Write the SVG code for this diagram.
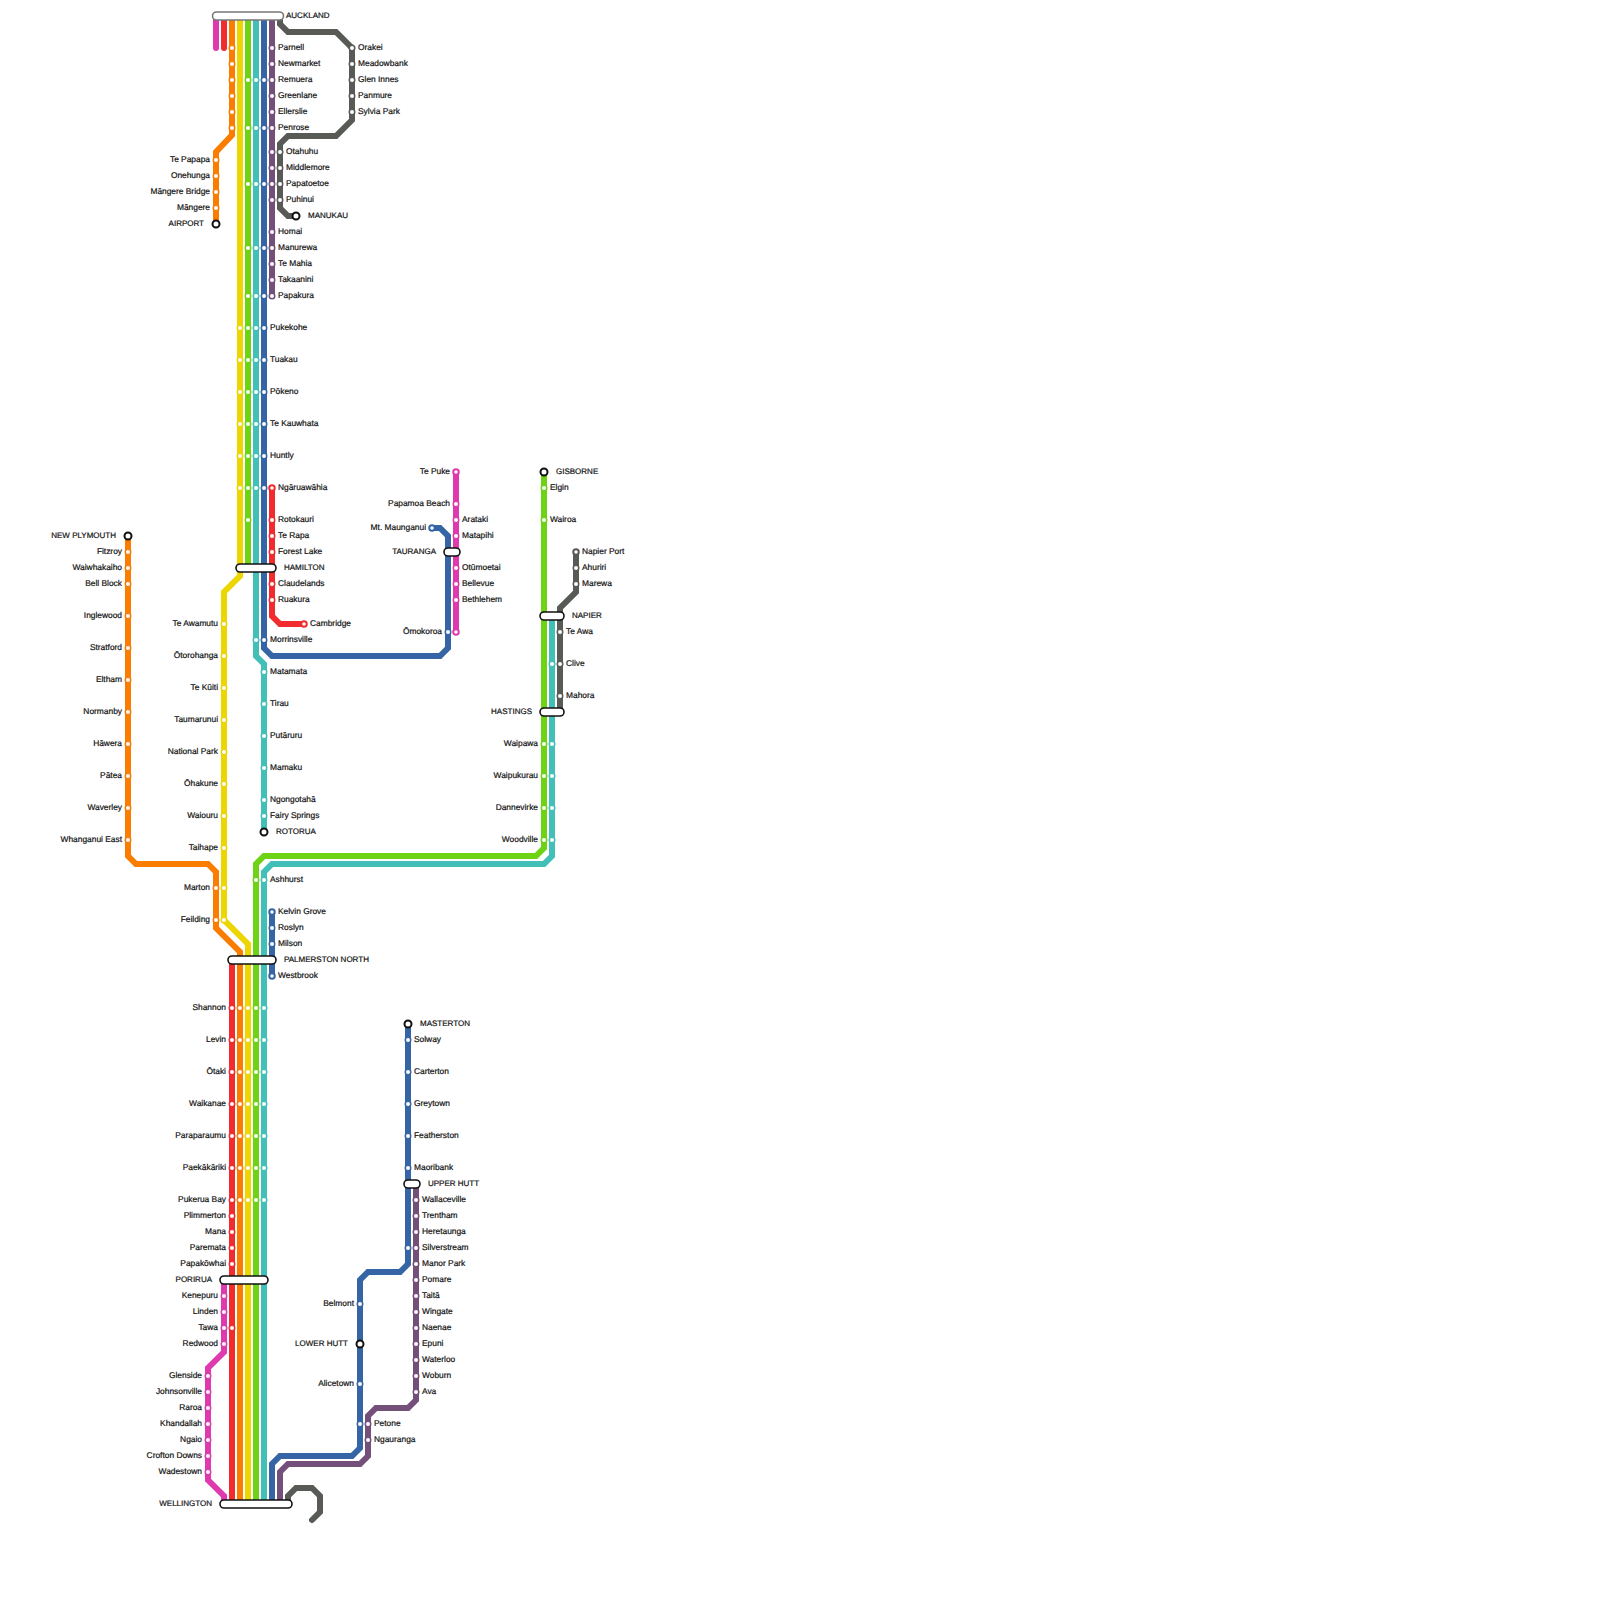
<svg xmlns="http://www.w3.org/2000/svg" width="1600" height="1600" viewBox="0 0 1600 1600">
<style>
text{font-family:"Liberation Sans",Arial,sans-serif;font-size:8.4px;fill:#111;stroke:#111;stroke-width:.2px;text-rendering:geometricPrecision}
.c{font-size:8px}
.r{text-anchor:end}
.ln{fill:none;stroke-width:6;stroke-linejoin:miter;stroke-linecap:round}
.bx{fill:#fff;stroke:#111;stroke-width:1.6}
.tm{fill:#fff;stroke:#111;stroke-width:2}
#m{fill:#fff}
use{stroke-width:1.5}
use.end{stroke-width:2}
.red{stroke:#f12b2e}.ora{stroke:#fa7d00}.yel{stroke:#edd600}.gre{stroke:#6dd314}.tea{stroke:#42c0b8}.blu{stroke:#3565a5}.pur{stroke:#744f79}.mag{stroke:#df39af}.gry{stroke:#575a55}
</style>
<defs>
<circle id="m" r="2.750"/>
</defs>
<g id="connectors">
<path class="ln mag" d="M216 20V48"/>
<path class="ln red" d="M224 20V48"/>
<path class="ln ora" d="M232 20V135L216 152V224"/>
<path class="ln yel" d="M240 20V576L224 592V920L248 944V1504"/>
<path class="ln gre" d="M248 20V568"/>
<path class="ln tea" d="M256 20V656L264 664V832"/>
<path class="ln blu" d="M264 20V648L272 656H440L448 648V536L440 528H432"/>
<path class="ln pur" d="M272 20V296"/>
<path class="ln gry" d="M280 16V24L288 32H336L352 48V120L336 136H288L280 144V208L288 216H296"/>
<path class="ln red" d="M272 488V616L280 624H304"/>
<path class="ln mag" d="M456 472V632"/>
<path class="ln ora" d="M128 536V856L136 864H208L216 872V928L240 952V1504"/>
<path class="ln red" d="M232 960V1504"/>
<path class="ln gre" d="M256 1504V864L264 856H536L544 848V472"/>
<path class="ln tea" d="M264 1504V872L272 864H544L552 856V616"/>
<path class="ln blu" d="M272 912V976"/>
<path class="ln gry" d="M576 552V592L560 608V712"/>
<path class="ln mag" d="M224 1280V1352L208 1368V1480L224 1496V1504"/>
<path class="ln blu" d="M272 1504V1464L280 1456H352L360 1448V1280L368 1272H400L408 1264V1024"/>
<path class="ln pur" d="M280 1504V1472L288 1464H360L368 1456V1416L376 1408H408L416 1400V1184"/>
<path class="ln gry" d="M288 1504V1496L296 1488H312L320 1496V1512L312 1520"/>
</g>
<g id="auckland"><rect x="212.500" y="12" width="71" height="8" rx="4" fill="#fff" stroke="#777" stroke-width="1.600"/><text class="c" x="286" y="18">AUCKLAND</text></g>
<g id="parnell"><use href="#m" x="232" y="48" class="ora"/><use href="#m" x="272" y="48" class="pur"/><use href="#m" x="352" y="48" class="gry"/><text x="278" y="50">Parnell</text></g>
<g id="orakei"><text x="358" y="50">Orakei</text></g>
<g id="newmarket"><use href="#m" x="232" y="64" class="ora"/><use href="#m" x="272" y="64" class="pur"/><use href="#m" x="352" y="64" class="gry"/><text x="278" y="66">Newmarket</text><text x="358" y="66">Meadowbank</text></g>
<g id="remuera"><use href="#m" x="232" y="80" class="ora"/><use href="#m" x="248" y="80" class="gre"/><use href="#m" x="256" y="80" class="tea"/><use href="#m" x="264" y="80" class="blu"/><use href="#m" x="272" y="80" class="pur"/><use href="#m" x="352" y="80" class="gry"/><text x="278" y="82">Remuera</text><text x="358" y="82">Glen Innes</text></g>
<g id="greenlane"><use href="#m" x="232" y="96" class="ora"/><use href="#m" x="272" y="96" class="pur"/><use href="#m" x="352" y="96" class="gry"/><text x="278" y="98">Greenlane</text><text x="358" y="98">Panmure</text></g>
<g id="ellerslie"><use href="#m" x="232" y="112" class="ora"/><use href="#m" x="272" y="112" class="pur"/><use href="#m" x="352" y="112" class="gry"/><text x="278" y="114">Ellerslie</text><text x="358" y="114">Sylvia Park</text></g>
<g id="penrose"><use href="#m" x="232" y="128" class="ora"/><use href="#m" x="248" y="128" class="gre"/><use href="#m" x="256" y="128" class="tea"/><use href="#m" x="264" y="128" class="blu"/><use href="#m" x="272" y="128" class="pur"/><text x="278" y="130">Penrose</text></g>
<g id="otahuhu"><use href="#m" x="272" y="152" class="pur"/><use href="#m" x="280" y="152" class="gry"/><text x="286" y="154">Otahuhu</text></g>
<g id="middlemore"><use href="#m" x="272" y="168" class="pur"/><use href="#m" x="280" y="168" class="gry"/><text x="286" y="170">Middlemore</text></g>
<g id="papatoetoe"><use href="#m" x="248" y="184" class="gre"/><use href="#m" x="256" y="184" class="tea"/><use href="#m" x="264" y="184" class="blu"/><use href="#m" x="272" y="184" class="pur"/><use href="#m" x="280" y="184" class="gry"/><text x="286" y="186">Papatoetoe</text></g>
<g id="puhinui"><use href="#m" x="272" y="200" class="pur"/><use href="#m" x="280" y="200" class="gry"/><text x="286" y="202">Puhinui</text></g>
<g id="manukau"><circle cx="296" cy="216" r="3.500" class="tm"/><text class="c" x="308" y="218">MANUKAU</text></g>
<g id="te-papapa"><use href="#m" x="216" y="160" class="ora"/><text class="r" x="210" y="162">Te Papapa</text></g>
<g id="onehunga"><use href="#m" x="216" y="176" class="ora"/><text class="r" x="210" y="178">Onehunga</text></g>
<g id="mangere-bridge"><use href="#m" x="216" y="192" class="ora"/><text class="r" x="210" y="194">Māngere Bridge</text></g>
<g id="mangere"><use href="#m" x="216" y="208" class="ora"/><text class="r" x="210" y="210">Māngere</text></g>
<g id="airport"><circle cx="216" cy="224" r="3.500" class="tm"/><text class="r c" x="204" y="226">AIRPORT</text></g>
<g id="homai"><use href="#m" x="272" y="232" class="pur"/><text x="278" y="234">Homai</text></g>
<g id="manurewa"><use href="#m" x="248" y="248" class="gre"/><use href="#m" x="256" y="248" class="tea"/><use href="#m" x="264" y="248" class="blu"/><use href="#m" x="272" y="248" class="pur"/><text x="278" y="250">Manurewa</text></g>
<g id="te-mahia"><use href="#m" x="272" y="264" class="pur"/><text x="278" y="266">Te Mahia</text></g>
<g id="takaanini"><use href="#m" x="272" y="280" class="pur"/><text x="278" y="282">Takaanini</text></g>
<g id="papakura"><use href="#m" x="248" y="296" class="gre"/><use href="#m" x="256" y="296" class="tea"/><use href="#m" x="264" y="296" class="blu"/><use href="#m" x="272" y="296" class="pur"/><text x="278" y="298">Papakura</text></g>
<g id="pukekohe"><use href="#m" x="240" y="328" class="yel"/><use href="#m" x="248" y="328" class="gre"/><use href="#m" x="256" y="328" class="tea"/><use href="#m" x="264" y="328" class="blu"/><text x="270" y="330">Pukekohe</text></g>
<g id="tuakau"><use href="#m" x="240" y="360" class="yel"/><use href="#m" x="248" y="360" class="gre"/><use href="#m" x="256" y="360" class="tea"/><use href="#m" x="264" y="360" class="blu"/><text x="270" y="362">Tuakau</text></g>
<g id="pokeno"><use href="#m" x="240" y="392" class="yel"/><use href="#m" x="248" y="392" class="gre"/><use href="#m" x="256" y="392" class="tea"/><use href="#m" x="264" y="392" class="blu"/><text x="270" y="394">Pōkeno</text></g>
<g id="te-kauwhata"><use href="#m" x="240" y="424" class="yel"/><use href="#m" x="248" y="424" class="gre"/><use href="#m" x="256" y="424" class="tea"/><use href="#m" x="264" y="424" class="blu"/><text x="270" y="426">Te Kauwhata</text></g>
<g id="huntly"><use href="#m" x="240" y="456" class="yel"/><use href="#m" x="248" y="456" class="gre"/><use href="#m" x="256" y="456" class="tea"/><use href="#m" x="264" y="456" class="blu"/><text x="270" y="458">Huntly</text></g>
<g id="ngaruawahia"><use href="#m" x="240" y="488" class="yel"/><use href="#m" x="248" y="488" class="gre"/><use href="#m" x="256" y="488" class="tea"/><use href="#m" x="264" y="488" class="blu"/><use href="#m" x="272" y="488" class="red end"/><text x="278" y="490">Ngāruawāhia</text></g>
<g id="rotokauri"><use href="#m" x="248" y="520" class="gre"/><use href="#m" x="272" y="520" class="red"/><text x="278" y="522">Rotokauri</text></g>
<g id="te-rapa"><use href="#m" x="272" y="536" class="red"/><text x="278" y="538">Te Rapa</text></g>
<g id="forest-lake"><use href="#m" x="272" y="552" class="red"/><text x="278" y="554">Forest Lake</text></g>
<g id="hamilton"><rect x="236" y="564" width="40" height="8" rx="4" class="bx"/><text class="c" x="284" y="570">HAMILTON</text></g>
<g id="claudelands"><use href="#m" x="272" y="584" class="red"/><text x="278" y="586">Claudelands</text></g>
<g id="ruakura"><use href="#m" x="272" y="600" class="red"/><text x="278" y="602">Ruakura</text></g>
<g id="cambridge"><use href="#m" x="304" y="624" class="red end"/><text x="310" y="626">Cambridge</text></g>
<g id="morrinsville"><use href="#m" x="256" y="640" class="tea"/><use href="#m" x="264" y="640" class="blu"/><text x="270" y="642">Morrinsville</text></g>
<g id="matamata"><use href="#m" x="264" y="672" class="tea"/><text x="270" y="674">Matamata</text></g>
<g id="tirau"><use href="#m" x="264" y="704" class="tea"/><text x="270" y="706">Tirau</text></g>
<g id="putaruru"><use href="#m" x="264" y="736" class="tea"/><text x="270" y="738">Putāruru</text></g>
<g id="mamaku"><use href="#m" x="264" y="768" class="tea"/><text x="270" y="770">Mamaku</text></g>
<g id="ngongotaha"><use href="#m" x="264" y="800" class="tea"/><text x="270" y="802">Ngongotahā</text></g>
<g id="fairy-springs"><use href="#m" x="264" y="816" class="tea"/><text x="270" y="818">Fairy Springs</text></g>
<g id="rotorua"><circle cx="264" cy="832" r="3.500" class="tm"/><text class="c" x="276" y="834">ROTORUA</text></g>
<g id="te-awamutu"><use href="#m" x="224" y="624" class="yel"/><text class="r" x="218" y="626">Te Awamutu</text></g>
<g id="otorohanga"><use href="#m" x="224" y="656" class="yel"/><text class="r" x="218" y="658">Ōtorohanga</text></g>
<g id="te-kuiti"><use href="#m" x="224" y="688" class="yel"/><text class="r" x="218" y="690">Te Kūiti</text></g>
<g id="taumarunui"><use href="#m" x="224" y="720" class="yel"/><text class="r" x="218" y="722">Taumarunui</text></g>
<g id="national-park"><use href="#m" x="224" y="752" class="yel"/><text class="r" x="218" y="754">National Park</text></g>
<g id="ohakune"><use href="#m" x="224" y="784" class="yel"/><text class="r" x="218" y="786">Ōhakune</text></g>
<g id="waiouru"><use href="#m" x="224" y="816" class="yel"/><text class="r" x="218" y="818">Waiouru</text></g>
<g id="taihape"><use href="#m" x="224" y="848" class="yel"/><text class="r" x="218" y="850">Taihape</text></g>
<g id="marton"><use href="#m" x="216" y="888" class="ora"/><use href="#m" x="224" y="888" class="yel"/><text class="r" x="210" y="890">Marton</text></g>
<g id="feilding"><use href="#m" x="216" y="920" class="ora"/><use href="#m" x="224" y="920" class="yel"/><text class="r" x="210" y="922">Feilding</text></g>
<g id="new-plymouth"><circle cx="128" cy="536" r="3.500" class="tm"/><text class="r c" x="116" y="538">NEW PLYMOUTH</text></g>
<g id="fitzroy"><use href="#m" x="128" y="552" class="ora"/><text class="r" x="122" y="554">Fitzroy</text></g>
<g id="waiwhakaiho"><use href="#m" x="128" y="568" class="ora"/><text class="r" x="122" y="570">Waiwhakaiho</text></g>
<g id="bell-block"><use href="#m" x="128" y="584" class="ora"/><text class="r" x="122" y="586">Bell Block</text></g>
<g id="inglewood"><use href="#m" x="128" y="616" class="ora"/><text class="r" x="122" y="618">Inglewood</text></g>
<g id="stratford"><use href="#m" x="128" y="648" class="ora"/><text class="r" x="122" y="650">Stratford</text></g>
<g id="eltham"><use href="#m" x="128" y="680" class="ora"/><text class="r" x="122" y="682">Eltham</text></g>
<g id="normanby"><use href="#m" x="128" y="712" class="ora"/><text class="r" x="122" y="714">Normanby</text></g>
<g id="hawera"><use href="#m" x="128" y="744" class="ora"/><text class="r" x="122" y="746">Hāwera</text></g>
<g id="patea"><use href="#m" x="128" y="776" class="ora"/><text class="r" x="122" y="778">Pātea</text></g>
<g id="waverley"><use href="#m" x="128" y="808" class="ora"/><text class="r" x="122" y="810">Waverley</text></g>
<g id="whanganui-east"><use href="#m" x="128" y="840" class="ora"/><text class="r" x="122" y="842">Whanganui East</text></g>
<g id="te-puke"><use href="#m" x="456" y="472" class="mag end"/><text class="r" x="450" y="474">Te Puke</text></g>
<g id="papamoa-beach"><use href="#m" x="456" y="504" class="mag"/><text class="r" x="450" y="506">Papamoa Beach</text></g>
<g id="arataki"><use href="#m" x="456" y="520" class="mag"/><text x="462" y="522">Arataki</text></g>
<g id="mt-maunganui"><use href="#m" x="432" y="528" class="blu end"/><text class="r" x="426" y="530">Mt. Maunganui</text></g>
<g id="matapihi"><use href="#m" x="456" y="536" class="mag"/><text x="462" y="538">Matapihi</text></g>
<g id="tauranga"><rect x="444" y="548" width="16" height="8" rx="4" class="bx"/><text class="r c" x="436" y="554">TAURANGA</text></g>
<g id="otumoetai"><use href="#m" x="456" y="568" class="mag"/><text x="462" y="570">Otūmoetai</text></g>
<g id="bellevue"><use href="#m" x="456" y="584" class="mag"/><text x="462" y="586">Bellevue</text></g>
<g id="bethlehem"><use href="#m" x="456" y="600" class="mag"/><text x="462" y="602">Bethlehem</text></g>
<g id="omokoroa"><use href="#m" x="448" y="632" class="blu"/><use href="#m" x="456" y="632" class="mag end"/><text class="r" x="442" y="634">Ōmokoroa</text></g>
<g id="gisborne"><circle cx="544" cy="472" r="3.500" class="tm"/><text class="c" x="556" y="474">GISBORNE</text></g>
<g id="elgin"><use href="#m" x="544" y="488" class="gre"/><text x="550" y="490">Elgin</text></g>
<g id="wairoa"><use href="#m" x="544" y="520" class="gre"/><text x="550" y="522">Wairoa</text></g>
<g id="napier-port"><use href="#m" x="576" y="552" class="gry end"/><text x="582" y="554">Napier Port</text></g>
<g id="ahuriri"><use href="#m" x="576" y="568" class="gry"/><text x="582" y="570">Ahuriri</text></g>
<g id="marewa"><use href="#m" x="576" y="584" class="gry"/><text x="582" y="586">Marewa</text></g>
<g id="napier"><rect x="540" y="612" width="24" height="8" rx="4" class="bx"/><text class="c" x="572" y="618">NAPIER</text></g>
<g id="te-awa"><use href="#m" x="560" y="632" class="gry"/><text x="566" y="634">Te Awa</text></g>
<g id="clive"><use href="#m" x="552" y="664" class="tea"/><use href="#m" x="560" y="664" class="gry"/><text x="566" y="666">Clive</text></g>
<g id="mahora"><use href="#m" x="560" y="696" class="gry"/><text x="566" y="698">Mahora</text></g>
<g id="hastings"><rect x="540" y="708" width="24" height="8" rx="4" class="bx"/><text class="r c" x="532" y="714">HASTINGS</text></g>
<g id="waipawa"><use href="#m" x="544" y="744" class="gre"/><use href="#m" x="552" y="744" class="tea"/><text class="r" x="538" y="746">Waipawa</text></g>
<g id="waipukurau"><use href="#m" x="544" y="776" class="gre"/><use href="#m" x="552" y="776" class="tea"/><text class="r" x="538" y="778">Waipukurau</text></g>
<g id="dannevirke"><use href="#m" x="544" y="808" class="gre"/><use href="#m" x="552" y="808" class="tea"/><text class="r" x="538" y="810">Dannevirke</text></g>
<g id="woodville"><use href="#m" x="544" y="840" class="gre"/><use href="#m" x="552" y="840" class="tea"/><text class="r" x="538" y="842">Woodville</text></g>
<g id="ashhurst"><use href="#m" x="256" y="880" class="gre"/><use href="#m" x="264" y="880" class="tea"/><text x="270" y="882">Ashhurst</text></g>
<g id="kelvin-grove"><use href="#m" x="272" y="912" class="blu end"/><text x="278" y="914">Kelvin Grove</text></g>
<g id="roslyn"><use href="#m" x="272" y="928" class="blu"/><text x="278" y="930">Roslyn</text></g>
<g id="milson"><use href="#m" x="272" y="944" class="blu"/><text x="278" y="946">Milson</text></g>
<g id="palmerston-north"><rect x="228" y="956" width="48" height="8" rx="4" class="bx"/><text class="c" x="284" y="962">PALMERSTON NORTH</text></g>
<g id="westbrook"><use href="#m" x="272" y="976" class="blu end"/><text x="278" y="978">Westbrook</text></g>
<g id="shannon"><use href="#m" x="232" y="1008" class="red"/><use href="#m" x="240" y="1008" class="ora"/><use href="#m" x="248" y="1008" class="yel"/><use href="#m" x="256" y="1008" class="gre"/><use href="#m" x="264" y="1008" class="tea"/><text class="r" x="226" y="1010">Shannon</text></g>
<g id="levin"><use href="#m" x="232" y="1040" class="red"/><use href="#m" x="240" y="1040" class="ora"/><use href="#m" x="248" y="1040" class="yel"/><use href="#m" x="256" y="1040" class="gre"/><use href="#m" x="264" y="1040" class="tea"/><text class="r" x="226" y="1042">Levin</text></g>
<g id="otaki"><use href="#m" x="232" y="1072" class="red"/><use href="#m" x="240" y="1072" class="ora"/><use href="#m" x="248" y="1072" class="yel"/><use href="#m" x="256" y="1072" class="gre"/><use href="#m" x="264" y="1072" class="tea"/><text class="r" x="226" y="1074">Ōtaki</text></g>
<g id="waikanae"><use href="#m" x="232" y="1104" class="red"/><use href="#m" x="240" y="1104" class="ora"/><use href="#m" x="248" y="1104" class="yel"/><use href="#m" x="256" y="1104" class="gre"/><use href="#m" x="264" y="1104" class="tea"/><text class="r" x="226" y="1106">Waikanae</text></g>
<g id="paraparaumu"><use href="#m" x="232" y="1136" class="red"/><use href="#m" x="240" y="1136" class="ora"/><use href="#m" x="248" y="1136" class="yel"/><use href="#m" x="256" y="1136" class="gre"/><use href="#m" x="264" y="1136" class="tea"/><text class="r" x="226" y="1138">Paraparaumu</text></g>
<g id="paekakariki"><use href="#m" x="232" y="1168" class="red"/><use href="#m" x="240" y="1168" class="ora"/><use href="#m" x="248" y="1168" class="yel"/><use href="#m" x="256" y="1168" class="gre"/><use href="#m" x="264" y="1168" class="tea"/><text class="r" x="226" y="1170">Paekākāriki</text></g>
<g id="pukerua-bay"><use href="#m" x="232" y="1200" class="red"/><use href="#m" x="240" y="1200" class="ora"/><use href="#m" x="248" y="1200" class="yel"/><use href="#m" x="256" y="1200" class="gre"/><use href="#m" x="264" y="1200" class="tea"/><text class="r" x="226" y="1202">Pukerua Bay</text></g>
<g id="plimmerton"><use href="#m" x="232" y="1216" class="red"/><text class="r" x="226" y="1218">Plimmerton</text></g>
<g id="mana"><use href="#m" x="232" y="1232" class="red"/><text class="r" x="226" y="1234">Mana</text></g>
<g id="paremata"><use href="#m" x="232" y="1248" class="red"/><text class="r" x="226" y="1250">Paremata</text></g>
<g id="papakowhai"><use href="#m" x="232" y="1264" class="red"/><text class="r" x="226" y="1266">Papakōwhai</text></g>
<g id="porirua"><rect x="220" y="1276" width="48" height="8" rx="4" class="bx"/><text class="r c" x="212" y="1282">PORIRUA</text></g>
<g id="kenepuru"><use href="#m" x="224" y="1296" class="mag"/><text class="r" x="218" y="1298">Kenepuru</text></g>
<g id="linden"><use href="#m" x="224" y="1312" class="mag"/><text class="r" x="218" y="1314">Linden</text></g>
<g id="tawa"><use href="#m" x="224" y="1328" class="mag"/><use href="#m" x="232" y="1328" class="red"/><text class="r" x="218" y="1330">Tawa</text></g>
<g id="redwood"><use href="#m" x="224" y="1344" class="mag"/><text class="r" x="218" y="1346">Redwood</text></g>
<g id="glenside"><use href="#m" x="208" y="1376" class="mag"/><text class="r" x="202" y="1378">Glenside</text></g>
<g id="johnsonville"><use href="#m" x="208" y="1392" class="mag"/><text class="r" x="202" y="1394">Johnsonville</text></g>
<g id="raroa"><use href="#m" x="208" y="1408" class="mag"/><text class="r" x="202" y="1410">Raroa</text></g>
<g id="khandallah"><use href="#m" x="208" y="1424" class="mag"/><text class="r" x="202" y="1426">Khandallah</text></g>
<g id="ngaio"><use href="#m" x="208" y="1440" class="mag"/><text class="r" x="202" y="1442">Ngaio</text></g>
<g id="crofton-downs"><use href="#m" x="208" y="1456" class="mag"/><text class="r" x="202" y="1458">Crofton Downs</text></g>
<g id="wadestown"><use href="#m" x="208" y="1472" class="mag"/><text class="r" x="202" y="1474">Wadestown</text></g>
<g id="wellington"><rect x="220" y="1500" width="72" height="8" rx="4" class="bx"/><text class="r c" x="212" y="1506">WELLINGTON</text></g>
<g id="masterton"><circle cx="408" cy="1024" r="3.500" class="tm"/><text class="c" x="420" y="1026">MASTERTON</text></g>
<g id="solway"><use href="#m" x="408" y="1040" class="blu"/><text x="414" y="1042">Solway</text></g>
<g id="carterton"><use href="#m" x="408" y="1072" class="blu"/><text x="414" y="1074">Carterton</text></g>
<g id="greytown"><use href="#m" x="408" y="1104" class="blu"/><text x="414" y="1106">Greytown</text></g>
<g id="featherston"><use href="#m" x="408" y="1136" class="blu"/><text x="414" y="1138">Featherston</text></g>
<g id="maoribank"><use href="#m" x="408" y="1168" class="blu"/><text x="414" y="1170">Maoribank</text></g>
<g id="upper-hutt"><rect x="404" y="1180" width="16" height="8" rx="4" class="bx"/><text class="c" x="428" y="1186">UPPER HUTT</text></g>
<g id="wallaceville"><use href="#m" x="416" y="1200" class="pur"/><text x="422" y="1202">Wallaceville</text></g>
<g id="trentham"><use href="#m" x="416" y="1216" class="pur"/><text x="422" y="1218">Trentham</text></g>
<g id="heretaunga"><use href="#m" x="416" y="1232" class="pur"/><text x="422" y="1234">Heretaunga</text></g>
<g id="silverstream"><use href="#m" x="408" y="1248" class="blu"/><use href="#m" x="416" y="1248" class="pur"/><text x="422" y="1250">Silverstream</text></g>
<g id="manor-park"><use href="#m" x="416" y="1264" class="pur"/><text x="422" y="1266">Manor Park</text></g>
<g id="pomare"><use href="#m" x="416" y="1280" class="pur"/><text x="422" y="1282">Pomare</text></g>
<g id="taita"><use href="#m" x="416" y="1296" class="pur"/><text x="422" y="1298">Taitā</text></g>
<g id="wingate"><use href="#m" x="416" y="1312" class="pur"/><text x="422" y="1314">Wingate</text></g>
<g id="naenae"><use href="#m" x="416" y="1328" class="pur"/><text x="422" y="1330">Naenae</text></g>
<g id="epuni"><use href="#m" x="416" y="1344" class="pur"/><text x="422" y="1346">Epuni</text></g>
<g id="waterloo"><use href="#m" x="416" y="1360" class="pur"/><text x="422" y="1362">Waterloo</text></g>
<g id="woburn"><use href="#m" x="416" y="1376" class="pur"/><text x="422" y="1378">Woburn</text></g>
<g id="ava"><use href="#m" x="416" y="1392" class="pur"/><text x="422" y="1394">Ava</text></g>
<g id="belmont"><use href="#m" x="360" y="1304" class="blu"/><text class="r" x="354" y="1306">Belmont</text></g>
<g id="lower-hutt"><circle cx="360" cy="1344" r="3.500" class="tm"/><text class="r c" x="348" y="1346">LOWER HUTT</text></g>
<g id="alicetown"><use href="#m" x="360" y="1384" class="blu"/><text class="r" x="354" y="1386">Alicetown</text></g>
<g id="petone"><use href="#m" x="360" y="1424" class="blu"/><use href="#m" x="368" y="1424" class="pur"/><text x="374" y="1426">Petone</text></g>
<g id="ngauranga"><use href="#m" x="368" y="1440" class="pur"/><text x="374" y="1442">Ngauranga</text></g>
</svg>
